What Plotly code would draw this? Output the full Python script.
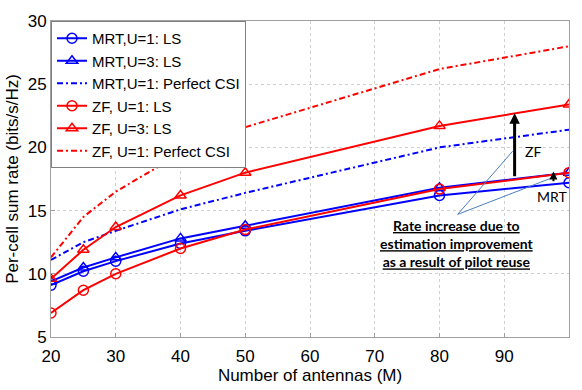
import plotly.graph_objects as go

M = [20, 25, 30, 40, 50, 80, 100]
mrt_u1_ls = [9.1, 10.2, 11.0, 12.4, 13.4, 16.2, 17.2]
mrt_u3_ls = [9.4, 10.5, 11.3, 12.8, 13.8, 16.8, 18.0]
mrt_u1_pcsi = [11.1, 12.5, 13.4, 15.1, 16.4, 20.0, 21.4]
zf_u1_ls = [6.9, 8.7, 10.0, 12.0, 13.5, 16.7, 18.0]
zf_u3_ls = [9.6, 11.9, 13.7, 16.2, 18.0, 21.7, 23.4]
zf_u1_pcsi = [11.3, 14.5, 16.5, 19.5, 21.6, 26.2, 28.0]

BLUE = "#0000ff"
RED = "#ff0000"
FONT = "Liberation Sans"

fig = go.Figure()
series = [
    ("MRT,U=1: LS", mrt_u1_ls, BLUE, "circle-open"),
    ("MRT,U=3: LS", mrt_u3_ls, BLUE, "triangle-up-open"),
    ("MRT,U=1: Perfect CSI", mrt_u1_pcsi, BLUE, None),
    ("ZF, U=1: LS", zf_u1_ls, RED, "circle-open"),
    ("ZF, U=3: LS", zf_u3_ls, RED, "triangle-up-open"),
    ("ZF, U=1: Perfect CSI", zf_u1_pcsi, RED, None),
]
for name, ys, col, sym in series:
    if sym:
        fig.add_trace(go.Scatter(x=M, y=ys, name=name, mode="lines+markers",
                                 line=dict(color=col, width=2),
                                 marker=dict(symbol=sym, size=10, color=col,
                                             line=dict(width=1.5, color=col))))
    else:
        fig.add_trace(go.Scatter(x=M, y=ys, name=name, mode="lines",
                                 line=dict(color=col, width=2, dash="6px,3px,2px,3px")))

# arrows
fig.add_annotation(x=91.6, y=22.7, ax=91.6, ay=17.6, xref="x", yref="y", axref="x", ayref="y",
                   showarrow=True, arrowhead=2, arrowsize=0.7, arrowwidth=3, arrowcolor="black", text="")
fig.add_annotation(x=97.6, y=18.1, ax=97.6, ay=17.2, xref="x", yref="y", axref="x", ayref="y",
                   showarrow=True, arrowhead=2, arrowsize=0.8, arrowwidth=2, arrowcolor="black", text="")
# pointer lines
fig.add_shape(type="line", x0=82.8, y0=14.7, x1=91.3, y1=19.7, xref="x", yref="y",
              line=dict(color="#4a7fc1", width=1))
fig.add_shape(type="line", x0=82.8, y0=14.7, x1=97.4, y1=17.6, xref="x", yref="y",
              line=dict(color="#4a7fc1", width=1))
fig.add_annotation(x=92.9, y=19.7, text="ZF", showarrow=False, xanchor="left",
                   font=dict(family="Lato", size=14, color="black"))
fig.add_annotation(x=97.3, y=16.1, text="MRT", showarrow=False,
                   font=dict(family="Lato", size=14, color="black"))
fig.add_annotation(x=82.7, y=12.4,
                   text="<b><u>Rate increase due to</u></b><br><b><u>estimation improvement</u></b><br><b><u>as a result of pilot reuse</u></b>",
                   showarrow=False, align="center",
                   font=dict(family="Lato", size=14, color="black"))

axis_common = dict(showgrid=True, gridcolor="#d0d0d0", griddash="dot", gridwidth=1,
                   showline=True, linecolor="#a0a0a0", linewidth=1, mirror=True,
                   ticks="inside", ticklen=4, tickcolor="#a0a0a0",
                   tickfont=dict(family=FONT, size=17, color="black"), zeroline=False)
fig.update_xaxes(range=[20, 100], dtick=10, tick0=20, ticklabelstandoff=4,
                 title=dict(text="Number of antennas (M)", standoff=0,
                            font=dict(family=FONT, size=17, color="black")), **axis_common)
fig.update_yaxes(range=[5, 30], dtick=5, tick0=5,
                 title=dict(text="Per-cell sum rate (bits/s/Hz)", standoff=4,
                            font=dict(family=FONT, size=17, color="black")), **axis_common)

fig.update_layout(
    width=582, height=390,
    margin=dict(l=49, r=12, t=16, b=37),
    paper_bgcolor="white", plot_bgcolor="white",
    legend=dict(x=0, y=1, xanchor="left", yanchor="top", bgcolor="white",
                bordercolor="#808080", borderwidth=1, tracegroupgap=0,
                font=dict(family=FONT, size=15, color="black"), itemwidth=30),
    showlegend=True,
)
fig.write_html("out.html")
